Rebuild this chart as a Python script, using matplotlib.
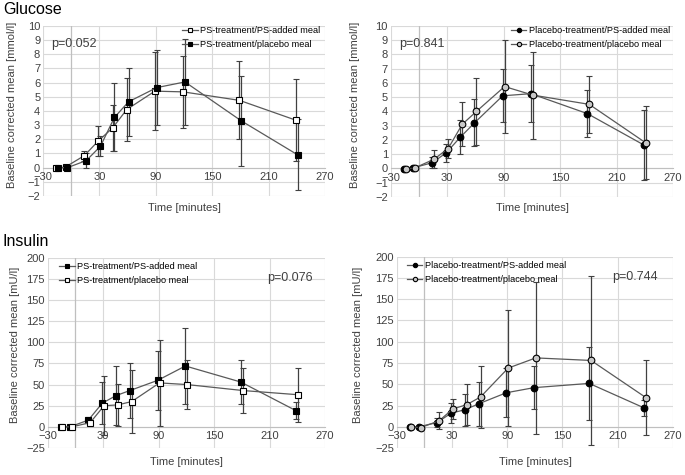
import matplotlib
matplotlib.use("Agg")
import matplotlib.pyplot as plt
import numpy as np

plt.rcParams['font.family'] = ['Liberation Sans', 'DejaVu Sans']

# ---------------- data ----------------
times = [-15, -5, 15, 30, 45, 60, 90, 120, 180, 240]
x_ticks = [-30, 30, 90, 150, 210, 270]

# Glucose, PS-treatment
glu_ps_psmeal = [-0.05, 0.05, 0.85, 1.9, 2.8, 4.1, 5.4, 5.35, 4.75, 3.35]
glu_ps_psmeal_err = [0.1, 0.1, 0.35, 1.05, 1.6, 2.2, 2.75, 2.55, 2.75, 2.9]
glu_ps_plmeal = [0.0, 0.0, 0.5, 1.5, 3.55, 4.65, 5.65, 6.05, 3.3, 0.9]
glu_ps_plmeal_err = [0.1, 0.1, 0.55, 0.7, 2.4, 2.4, 2.65, 3.05, 3.2, 2.5]

# Glucose, Placebo-treatment
glu_pl_psmeal = [-0.05, 0.05, 0.4, 1.1, 2.2, 3.2, 5.1, 5.25, 3.85, 1.65]
glu_pl_psmeal_err = [0.1, 0.1, 0.4, 0.65, 1.2, 1.65, 1.85, 2.0, 1.65, 2.45]
glu_pl_plmeal = [-0.05, 0.05, 0.65, 1.4, 3.1, 4.0, 5.75, 5.15, 4.5, 1.8]
glu_pl_plmeal_err = [0.1, 0.1, 0.65, 0.65, 1.55, 2.35, 3.25, 3.05, 2.0, 2.55]

# Insulin, PS-treatment
ins_ps_psmeal = [0, 0, 8, 28, 37, 43, 55, 72, 53, 19]
ins_ps_psmeal_err = [1, 1, 4, 25, 35, 32, 35, 45, 26, 10]
ins_ps_plmeal = [0, 0, 5, 25, 26, 30, 52, 50, 43, 38]
ins_ps_plmeal_err = [1, 1, 3, 35, 25, 37, 51, 29, 27, 32]

# Insulin, Placebo-treatment
ins_pl_psmeal = [0, 0, 5, 16, 20, 27, 40, 46, 51, 22]
ins_pl_psmeal_err = [1, 1, 5, 12, 19, 26, 29, 25.5, 43, 9]
ins_pl_plmeal = [0, -1, 7, 21, 26, 35, 69, 81, 78, 34]
ins_pl_plmeal_err = [1, 1, 10, 12, 24, 36, 68, 89, 99, 44]

p_values = ["p=0.052", "p=0.841", "p=0.076", "p=0.744"]

# ---------------- figure ----------------
fig = plt.figure(figsize=(6.85, 4.75), dpi=100)

LINE = '#595959'
GRID = '#d9d9d9'
AXC = '#bfbfbf'


def setup(ax, ylim, ystep):
    ax.set_xlim(-30, 270)
    ax.set_ylim(*ylim)
    ax.set_xticks(x_ticks)
    ax.set_yticks(np.arange(ylim[0], ylim[1] + ystep / 2, ystep))
    ax.grid(True, color=GRID, lw=0.8)
    ax.set_axisbelow(True)
    for s in ['top', 'right', 'left']:
        ax.spines[s].set_visible(False)
    ax.spines['bottom'].set_position(('data', 0))
    ax.spines['bottom'].set_color(AXC)
    ax.spines['bottom'].set_linewidth(0.8)
    ax.axvline(0, color=AXC, lw=0.9, zorder=1)
    ax.tick_params(length=0, labelsize=8, colors='#404040', pad=2)
    ax.tick_params(axis='x', pad=3)


def series(ax, t, y, e, marker, face, label, off):
    x = np.array(t, dtype=float) + off
    ax.errorbar(x, y, yerr=e, color=LINE, lw=0.9, marker=marker, ms=4.8,
                mfc=face, mec='black', mew=0.8, ecolor='#404040',
                elinewidth=0.9, capsize=2.0, capthick=0.8, label=label,
                zorder=3)


def leg(ax, loc, anchor):
    h, l = ax.get_legend_handles_labels()
    h = [hh[0] for hh in h]
    lg = ax.legend(h, l, loc=loc, bbox_to_anchor=anchor, frameon=False,
                   handlelength=1.7, handletextpad=0.25,
                   borderpad=0.0, labelspacing=0.55, markerscale=0.65,
                   prop={'family': ['Liberation Sans Narrow', 'Liberation Sans'],
                         'size': 6.6})
    return lg


# axes positions [left, bottom, width, height]
ax1 = fig.add_axes([0.0628, 0.5874, 0.4117, 0.3579])
ax2 = fig.add_axes([0.5704, 0.5853, 0.4121, 0.3600])
ax3 = fig.add_axes([0.0696, 0.0568, 0.4048, 0.4006])
ax4 = fig.add_axes([0.5791, 0.0568, 0.4034, 0.4027])

for ax in (ax1, ax2):
    setup(ax, (-2, 10), 1)
for ax in (ax3, ax4):
    setup(ax, (-25, 200), 25)

series(ax1, times, glu_ps_psmeal, glu_ps_psmeal_err, 's', 'white', 'PS-treatment/PS-added meal', -1)
series(ax1, times, glu_ps_plmeal, glu_ps_plmeal_err, 's', 'black', 'PS-treatment/placebo meal', 1)
series(ax2, times, glu_pl_psmeal, glu_pl_psmeal_err, 'o', 'black', 'Placebo-treatment/PS-added meal', -1)
series(ax2, times, glu_pl_plmeal, glu_pl_plmeal_err, 'o', '#c8c8c8', 'Placebo-treatment/placebo meal', 1)
series(ax3, times, ins_ps_psmeal, ins_ps_psmeal_err, 's', 'black', 'PS-treatment/PS-added meal', -1)
series(ax3, times, ins_ps_plmeal, ins_ps_plmeal_err, 's', 'white', 'PS-treatment/placebo meal', 1)
series(ax4, times, ins_pl_psmeal, ins_pl_psmeal_err, 'o', 'black', 'Placebo-treatment/PS-added meal', -1)
series(ax4, times, ins_pl_plmeal, ins_pl_plmeal_err, 'o', '#c8c8c8', 'Placebo-treatment/placebo meal', 1)

leg(ax1, 'upper right', (1.0, 1.025))
leg(ax2, 'upper right', (1.005, 1.025))
leg(ax3, 'upper left', (0.025, 1.0))
leg(ax4, 'upper left', (0.02, 1.0))

ax1.text(0.03, 0.93, p_values[0], transform=ax1.transAxes, fontsize=9, color='#404040', va='top', ha='left')
ax2.text(0.03, 0.93, p_values[1], transform=ax2.transAxes, fontsize=9, color='#404040', va='top', ha='left')
ax3.text(0.955, 0.925, p_values[2], transform=ax3.transAxes, fontsize=9, color='#404040', va='top', ha='right')
ax4.text(0.945, 0.925, p_values[3], transform=ax4.transAxes, fontsize=9, color='#404040', va='top', ha='right')

# axis titles
fig.text(184 / 685, 1 - 208 / 475, 'Time [minutes]', ha='center', va='center', fontsize=8, color='#404040')
fig.text(532 / 685, 1 - 208 / 475, 'Time [minutes]', ha='center', va='center', fontsize=8, color='#404040')
fig.text(186 / 685, 1 - 462 / 475, 'Time [minutes]', ha='center', va='center', fontsize=8, color='#404040')
fig.text(535 / 685, 1 - 462 / 475, 'Time [minutes]', ha='center', va='center', fontsize=8, color='#404040')

fig.text(12 / 685, 1 - 105 / 475, 'Baseline corrected mean [mmol/l]', rotation=90, ha='center', va='center', fontsize=8, color='#404040')
fig.text(355 / 685, 1 - 105 / 475, 'Baseline corrected mean [mmol/l]', rotation=90, ha='center', va='center', fontsize=8, color='#404040')
fig.text(15 / 685, 1 - 345 / 475, 'Baseline corrected mean [mU/l]', rotation=90, ha='center', va='center', fontsize=8, color='#404040')
fig.text(358 / 685, 1 - 345 / 475, 'Baseline corrected mean [mU/l]', rotation=90, ha='center', va='center', fontsize=8, color='#404040')

fig.text(3 / 685, 1 - 10 / 475, 'Glucose', ha='left', va='center', fontsize=11.5, color='black')
fig.text(3 / 685, 1 - 241 / 475, 'Insulin', ha='left', va='center', fontsize=11.5, color='black')

fig.savefig('out.png', dpi=100, facecolor='white')
